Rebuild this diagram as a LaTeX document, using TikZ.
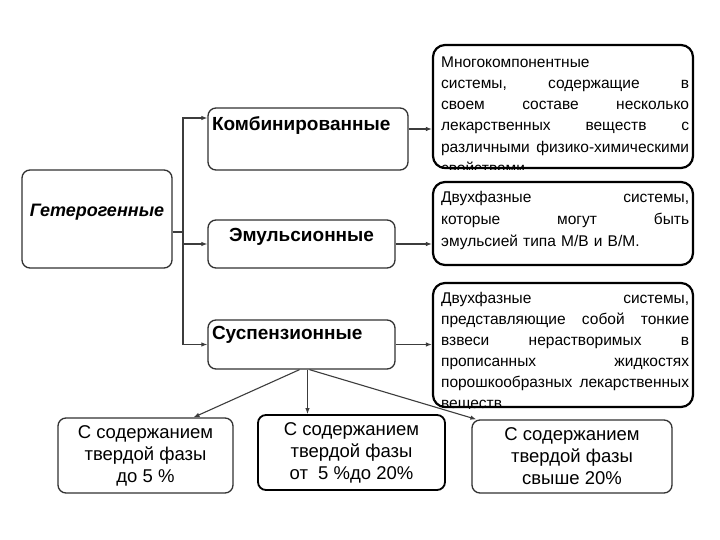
\documentclass[tikz,border=0pt]{standalone}
\usepackage{fontspec}
\setmainfont{Liberation Sans}
\usepackage{xcolor}
\definecolor{boxline}{RGB}{50,50,50}
\definecolor{arrline}{RGB}{60,60,60}
\usetikzlibrary{positioning,arrows.meta,calc}
\newcommand{\jrow}[1]{\leavevmode\hbox to 248pt{#1}}

\begin{document}
\begin{tikzpicture}[x=1pt,y=-1pt,
      kind/.style={rectangle,draw=boxline,line width=1.3pt,rounded corners=8pt,inner sep=4pt,
                   font=\fontsize{19}{22}\selectfont\bfseries},
      desc/.style={rectangle,draw=black,line width=2.2pt,rounded corners=12pt,minimum width=260pt},
      desctxt/.style={anchor=north west,inner sep=0pt,text width=248pt,align=left},
      share/.style={rectangle,draw=boxline,line width=1.3pt,rounded corners=8pt,align=center,
                    font=\fontsize{18.5}{22}\selectfont},
      arr/.style={draw=arrline,line width=1.1pt,-{Latex[length=6pt,width=4.5pt]}}]
    \fill[white] (0,0) rectangle (720,540);
    % left column
    \node[kind,font=\fontsize{18}{22}\selectfont\bfseries\itshape,minimum width=150pt,
          text height=42pt,text depth=48pt] (het) at (97,219) {Гетерогенные};
    \node[kind,text width=192pt,align=left,text height=19pt,text depth=35pt] (kom) at (308,139) {Комбинированные};
    \node[kind,minimum width=187pt,text height=17pt,text depth=23pt] (emu) at (301.5,244) {Эмульсионные};
    \node[kind,text width=179pt,align=left,text height=15pt,text depth=26pt] (sus) at (301.5,344.5) {Суспензионные};
    % descriptions
    \node[desc,minimum height=123pt] (d1) at (563,106.5) {};
    \node[desc,minimum height=83pt] (d2) at (563,223.5) {};
    \node[desc,minimum height=124pt] (d3) at (563,345) {};
    \begin{scope}
      \clip[rounded corners=12pt] (d1.north west) rectangle (d1.south east);
      \node[desctxt,font=\fontsize{15.5}{21.3}\selectfont] (d1t) at ([xshift=9pt,yshift=-11pt]d1.north west)
        {\rule{0pt}{12pt}Многокомпонентные\\ \jrow{системы,\hfill содержащие\hfill в}\\
         \jrow{своем\hfill составе\hfill несколько}\\ \jrow{лекарственных\hfill веществ\hfill с}\\
         \jrow{различными\hfill физико-химическими}\\ свойствами};
    \end{scope}
    \begin{scope}
      \clip[rounded corners=12pt] (d2.north west) rectangle (d2.south east);
      \node[desctxt,font=\fontsize{15.5}{22}\selectfont] (d2t) at ([xshift=9pt,yshift=-9pt]d2.north west)
        {\rule{0pt}{12pt}\jrow{Двухфазные\hfill системы,}\\ \jrow{которые\hfill могут\hfill быть}\\
         эмульсией типа М/В и В/М.};
    \end{scope}
    \begin{scope}
      \clip[rounded corners=12pt] (d3.north west) rectangle (d3.south east);
      \node[desctxt,font=\fontsize{15.5}{21}\selectfont] (d3t) at ([xshift=9pt,yshift=-9pt]d3.north west)
        {\rule{0pt}{12pt}\jrow{Двухфазные\hfill системы,}\\ \jrow{представляющие\hfill собой\hfill тонкие}\\
         \jrow{взвеси\hfill нерастворимых\hfill в}\\ \jrow{прописанных\hfill жидкостях}\\
         \jrow{порошкообразных\hfill лекарственных}\\ веществ};
    \end{scope}
    % bottom row
    \node[share,minimum width=175pt,minimum height=75pt] (b1) at (145.5,455.5) {С содержанием\\твердой фазы\\до 5~\%};
    \node[share,draw=black,line width=1.8pt,minimum width=187pt,minimum height=75pt] (b2) at (351.5,452.5)
      {С содержанием\\твердой фазы\\от~~5~\%до 20\%};
    \node[share,minimum width=200pt,minimum height=73pt] (b3) at (572,456.5) {С содержанием\\твердой фазы\\свыше 20\%};
    % connectors
    \coordinate (hub) at (183,232);
    \coordinate (komout) at ([yshift=10pt]kom.east);
    \draw[draw=arrline,line width=1.1pt] (hub -| het.east) -- (hub);
    \draw[arr] (hub) |- ([yshift=21pt]kom.west);
    \draw[arr] (hub) |- (emu.west);
    \draw[arr] (hub) |- (sus.west);
    \draw[arr] (komout) -- (komout -| d1.west);
    \draw[arr] (emu.east) -- (emu.east -| d2.west);
    \draw[arr] (sus.east) -- (sus.east -| d3.west);
    \draw[arr] ([xshift=-2pt]sus.south) -- ([xshift=48pt]b1.north);
    \draw[arr] ([xshift=6pt]sus.south) -- ([xshift=-44pt]b2.north);
    \draw[arr] ([xshift=8pt]sus.south) -- ([xshift=5pt]b3.north west);
  \end{tikzpicture}
\end{document}
